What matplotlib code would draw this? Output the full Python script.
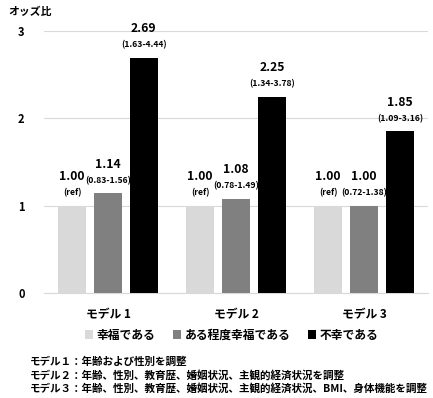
import matplotlib
matplotlib.use("Agg")
import matplotlib.pyplot as plt
import numpy as np

plt.rcParams['font.family'] = ['Noto Sans CJK JP', 'DejaVu Sans']

models = ["モデル 1", "モデル 2", "モデル 3"]
series = ["幸福である", "ある程度幸福である", "不幸である"]
happy = [1.00, 1.00, 1.00]
somewhat = [1.14, 1.08, 1.00]
unhappy = [2.69, 2.25, 1.85]
happy_ci = ["(ref)", "(ref)", "(ref)"]
somewhat_ci = ["(0.83-1.56)", "(0.78-1.49)", "(0.72-1.38)"]
unhappy_ci = ["(1.63-4.44)", "(1.34-3.78)", "(1.09-3.16)"]
colors = ["#d9d9d9", "#808080", "#000000"]
yticks = [0, 1, 2, 3]
notes = [
    "モデル１：年齢および性別を調整",
    "モデル２：年齢、性別、教育歴、婚姻状況、主観的経済状況を調整",
    "モデル３：年齢、性別、教育歴、婚姻状況、主観的経済状況、BMI、身体機能を調整",
]

fig = plt.figure(figsize=(4.33, 3.98), dpi=100)
ax = fig.add_axes([44/433, 1-293/398, 384/433, (293-31)/398])

x = np.arange(len(models))
off = 0.28
w = 0.22
vals = [happy, somewhat, unhappy]
cis = [happy_ci, somewhat_ci, unhappy_ci]
for i, (v, c, ci) in enumerate(zip(vals, colors, cis)):
    xs = x + (i - 1) * off
    ax.bar(xs, v, width=w, color=c, label=series[i], zorder=3)
    for xx, vv, cc in zip(xs, v, ci):
        ax.annotate(f"{vv:.2f}", (xx, vv), xytext=(0, 21), textcoords="offset points",
                    ha="center", va="center", fontsize=8.8, fontweight="bold",
                    annotation_clip=False)
        ax.annotate(cc, (xx, vv), xytext=(0, 9.3), textcoords="offset points",
                    ha="center", va="center", fontsize=6.2, fontweight="bold",
                    annotation_clip=False)

ax.set_xlim(-0.5, 2.5)
ax.set_ylim(0, 3)
ax.set_yticks(yticks)
ax.set_yticklabels([str(t) for t in yticks], fontsize=8, fontweight="bold")
ax.set_xticks(x)
ax.set_xticklabels(models, fontsize=8.5, fontweight="bold")
ax.tick_params(axis="both", length=0)
ax.tick_params(axis="y", pad=14)
ax.tick_params(axis="x", pad=11)
ax.grid(axis="y", color="#d9d9d9", linewidth=0.8, zorder=0)
for s in ["top", "right", "left"]:
    ax.spines[s].set_visible(False)
ax.spines["bottom"].set_color("#d9d9d9")
ax.spines["bottom"].set_linewidth(0.8)

fig.text(8/433, 1-12/398, "オッズ比", fontsize=7.8, fontweight="bold", va="center", ha="left")

leg = fig.legend(loc="center", bbox_to_anchor=(0.535, 1-335/398), ncol=3, frameon=False,
                 prop={"size": 8.5, "weight": "bold"}, handlelength=0.7, handleheight=0.7,
                 handletextpad=0.3, columnspacing=1.5)

for k, n in enumerate(notes):
    fig.text(30/433, 1-(362+k*13)/398, n, fontsize=7.6, fontweight="bold", va="center", ha="left")

fig.savefig("out.png", dpi=100)
